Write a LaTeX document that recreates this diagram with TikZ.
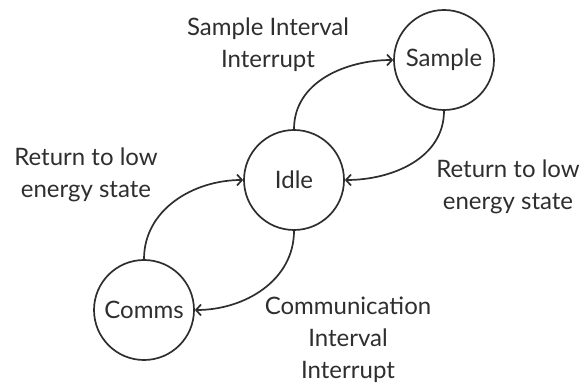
\documentclass[tikz,border=0pt]{standalone}
\usepackage{fontspec}
\setmainfont{Lato}
\usetikzlibrary{automata, positioning, arrows.meta}
\definecolor{ink}{HTML}{2E2E2E}
\tikzset{
->, % makes the edges directed
>={Straight Barb[length=5pt,width=11pt]}, % open arrow heads
x=1pt, y=1pt, % one unit is one pixel of the sketch
every state/.style={draw=ink, line width=1.7pt, minimum size=100pt, inner sep=0pt, text=ink}, % the three states
edge text/.style={align=center, text=ink}, % labels beside the edges
}

\begin{document}
\begin{tikzpicture}[font=\fontsize{24}{32}\selectfont]
\useasboundingbox (0,0) rectangle (585,385);
\node[state] (idle) at (294,205) {Idle};
\node[state, on grid, above right=120pt and 150pt of idle] (sample) {Sample};
\node[state, on grid, below left=130pt and 150pt of idle] (comms) {Comms};
\node[edge text] (tosample) at (268,340) {Sample Interval\\Interrupt};
\node[edge text] (fromcomms) at (86,210) {Return to low\\energy state};
\node[edge text] (fromsample) at (508,198) {Return to low\\energy state};
\node[edge text] (tocomms) at (348,45) {Communication\\Interval\\Interrupt};
\draw[line width=1.7pt, ink]
(idle) edge[out=90, in=180] (sample)
(sample) edge[out=-90, in=0] (idle)
(comms) edge[out=90, in=180] (idle)
(idle) edge[out=-90, in=0] (comms)
;
\end{tikzpicture}
\end{document}
